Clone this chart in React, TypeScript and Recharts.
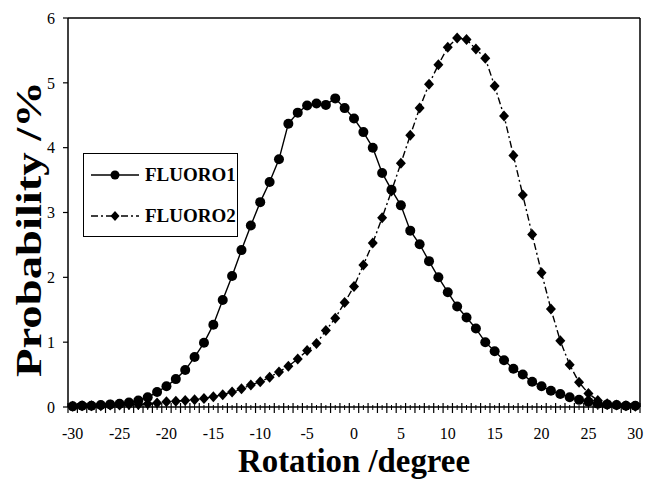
import React from "react";
import { LineChart, Line, XAxis, YAxis, ReferenceLine } from "recharts";

// rotation angle (degree), one point per degree
const rotation = [
  -30, -29, -28, -27, -26, -25, -24, -23, -22, -21, -20, -19, -18, -17, -16,
  -15, -14, -13, -12, -11, -10, -9, -8, -7, -6, -5, -4, -3, -2, -1, 0, 1, 2,
  3, 4, 5, 6, 7, 8, 9, 10, 11, 12, 13, 14, 15, 16, 17, 18, 19, 20, 21, 22, 23,
  24, 25, 26, 27, 28, 29, 30,
];

// probability (%)
const fluoro1 = [
  0.01, 0.02, 0.02, 0.03, 0.04, 0.05, 0.07, 0.1, 0.15, 0.23, 0.32, 0.43, 0.57,
  0.77, 0.99, 1.27, 1.65, 2.02, 2.42, 2.8, 3.16, 3.47, 3.82, 4.37, 4.54, 4.65,
  4.68, 4.66, 4.76, 4.61, 4.45, 4.24, 4.0, 3.61, 3.35, 3.11, 2.72, 2.51, 2.25,
  2.0, 1.77, 1.55, 1.38, 1.21, 1.0, 0.86, 0.72, 0.59, 0.5, 0.39, 0.32, 0.25,
  0.2, 0.15, 0.11, 0.08, 0.05, 0.04, 0.03, 0.02, 0.02,
];

const fluoro2 = [
  0.01, 0.02, 0.02, 0.02, 0.03, 0.03, 0.04, 0.04, 0.05, 0.06, 0.08, 0.09, 0.1,
  0.11, 0.13, 0.16, 0.19, 0.23, 0.28, 0.34, 0.39, 0.46, 0.54, 0.63, 0.74, 0.87,
  0.98, 1.18, 1.37, 1.61, 1.86, 2.19, 2.53, 2.92, 3.33, 3.76, 4.19, 4.61, 4.98,
  5.28, 5.55, 5.69, 5.67, 5.52, 5.38, 4.95, 4.49, 3.88, 3.27, 2.66, 2.07, 1.51,
  1.02, 0.65, 0.38, 0.21, 0.1, 0.05, 0.03, 0.02, 0.01,
];

const yTicks = [0, 1, 2, 3, 4, 5, 6];
const xLabelEvery = 5;

const SERIF = '"Liberation Serif", "Times New Roman", serif';

const data = rotation.map((x, i) => ({ x, fluoro1: fluoro1[i], fluoro2: fluoro2[i] }));

// category boundaries (x ± 0.5) get the tall cross ticks, centres a small one
const xTicks: number[] = [];
rotation.forEach((r) => {
  xTicks.push(r - 0.5, r);
});
xTicks.push(rotation[rotation.length - 1] + 0.5);

function XTick({ x, y, payload }: any) {
  const v = payload.value as number;
  const boundary = Math.abs(v % 1) === 0.5;
  return (
    <g>
      {boundary ? (
        <line x1={x} x2={x} y1={y - 4} y2={y + 6} stroke="#000" strokeWidth={1.2} />
      ) : (
        <line x1={x} x2={x} y1={y - 2} y2={y + 3} stroke="#000" strokeWidth={1} />
      )}
      {!boundary && v % xLabelEvery === 0 && (
        <text
          x={x}
          y={y + 32}
          textAnchor="middle"
          fontFamily={SERIF}
          fontSize={16}
          fill="#000"
        >
          {v}
        </text>
      )}
    </g>
  );
}

function Diamond(props: any) {
  const { cx, cy, index } = props;
  if (cx == null || cy == null) return <g key={`d-${index}`} />;
  return (
    <path
      key={`d-${index}`}
      d={`M${cx},${cy - 5.5} L${cx + 5},${cy} L${cx},${cy + 5.5} L${cx - 5},${cy} Z`}
      fill="#000"
    />
  );
}

function XTitle({ viewBox }: any) {
  const cx = viewBox.x + viewBox.width / 2;
  return (
    <text
      x={cx}
      y={viewBox.y + 65}
      textAnchor="middle"
      fontFamily={SERIF}
      fontWeight="bold"
      fontSize={33}
      textLength={232}
      lengthAdjust="spacingAndGlyphs"
      fill="#000"
    >
      Rotation /degree
    </text>
  );
}

function YTitle() {
  return (
    <text
      transform="translate(41,229) rotate(-90)"
      textAnchor="middle"
      fontFamily={SERIF}
      fontWeight="bold"
      fontSize={36}
      textLength={296}
      lengthAdjust="spacingAndGlyphs"
      fill="#000"
    >
      Probability /%
    </text>
  );
}

function LegendBox() {
  const row = (label: string, dash: string | undefined, marker: "circle" | "diamond") => (
    <div style={{ display: "flex", alignItems: "center", height: 41 }}>
      <svg width={50} height={14} style={{ marginLeft: 7 }}>
        <line x1={0} x2={48} y1={7} y2={7} stroke="#000" strokeWidth={1.4} strokeDasharray={dash} />
        {marker === "circle" ? (
          <circle cx={24} cy={7} r={4.5} fill="#000" />
        ) : (
          <path d="M24,2 L28.5,7 L24,12 L19.5,7 Z" fill="#000" />
        )}
      </svg>
      <span
        style={{
          fontFamily: SERIF,
          fontWeight: "bold",
          fontSize: 19,
          marginLeft: 4,
          color: "#000",
        }}
      >
        {label}
      </span>
    </div>
  );
  return (
    <div
      style={{
        position: "absolute",
        left: 83,
        top: 153,
        width: 153,
        height: 82,
        border: "1.5px solid #000",
        background: "#fff",
      }}
    >
      {row("FLUORO1", undefined, "circle")}
      {row("FLUORO2", "7 3 2 3", "diamond")}
    </div>
  );
}

export default function App() {
  return (
    <div style={{ position: "relative", width: 645, height: 479, background: "#fff" }}>
      <style>{`body{margin:0;background:#fff}`}</style>
      <LineChart
        width={645}
        height={479}
        data={data}
        margin={{ top: 18, right: 5, left: 0, bottom: 0 }}
      >
        <XAxis
          dataKey="x"
          type="number"
          domain={[-30.5, 30.5]}
          ticks={xTicks}
          interval={0}
          tick={<XTick />}
          tickLine={false}
          tickSize={0}
          tickMargin={0}
          height={72}
          axisLine={{ stroke: "#000", strokeWidth: 1.5 }}
          label={<XTitle />}
        />
        <YAxis
          type="number"
          domain={[0, 6]}
          ticks={yTicks}
          width={68}
          tickSize={5}
          tickMargin={8}
          tick={{ fontFamily: SERIF, fontSize: 16, fill: "#000" }}
          tickLine={{ stroke: "#000", strokeWidth: 1.2 }}
          axisLine={{ stroke: "#000", strokeWidth: 1.5 }}
          label={<YTitle />}
        />
        <ReferenceLine y={6} stroke="#000" strokeWidth={1.5} />
        <ReferenceLine x={30.5} stroke="#000" strokeWidth={1.5} />
        <Line
          dataKey="fluoro1"
          name="FLUORO1"
          stroke="#000"
          strokeWidth={1.4}
          dot={{ r: 5, fill: "#000", stroke: "#000", strokeWidth: 0 }}
          isAnimationActive={false}
        />
        <Line
          dataKey="fluoro2"
          name="FLUORO2"
          stroke="#000"
          strokeWidth={1.4}
          strokeDasharray="7 3 2 3"
          dot={Diamond}
          isAnimationActive={false}
        />
      </LineChart>
      <LegendBox />
    </div>
  );
}
